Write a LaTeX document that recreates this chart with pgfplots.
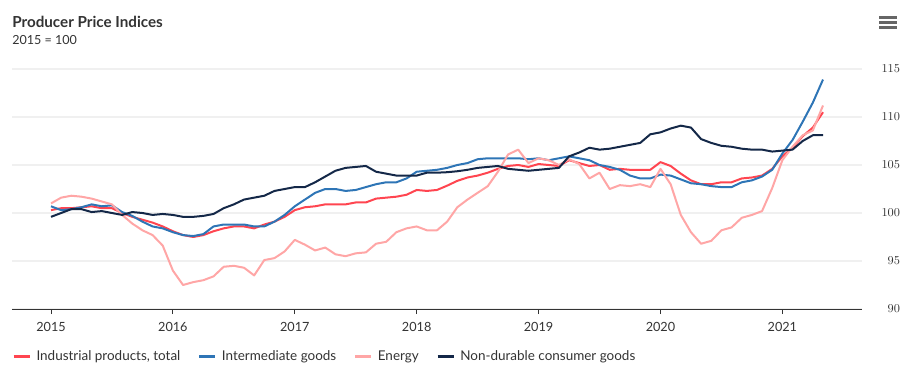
\documentclass[border=0pt]{standalone}
\usepackage{pgfplots}
\usepackage{pgfplotstable}
\pgfplotsset{compat=1.18}
\usepackage{fontspec}
\setmainfont{Lato}
\definecolor{cind}{RGB}{255,69,80}
\definecolor{cint}{RGB}{46,117,182}
\definecolor{cene}{RGB}{255,166,166}
\definecolor{cndc}{RGB}{20,40,72}
\definecolor{txt}{RGB}{51,51,51}
\definecolor{gridc}{RGB}{240,240,240}
\pgfplotstableread{
m ind int ene ndc
0 100.3 100.7 101.0 99.6
1 100.5 100.3 101.6 100.0
2 100.5 100.4 101.8 100.4
3 100.6 100.6 101.7 100.4
4 100.7 100.9 101.5 100.1
5 100.5 100.7 101.2 100.2
6 100.5 100.8 100.9 100.0
7 100.0 100.1 99.8 99.8
8 99.6 99.7 98.9 100.1
9 99.3 99.1 98.2 100.0
10 99.0 98.6 97.7 99.8
11 98.6 98.4 96.6 99.9
12 98.1 98.0 94.0 99.8
13 97.7 97.7 92.5 99.6
14 97.5 97.6 92.8 99.6
15 97.7 97.8 93.0 99.7
16 98.1 98.6 93.4 99.9
17 98.4 98.8 94.4 100.5
18 98.6 98.8 94.5 100.9
19 98.6 98.8 94.3 101.4
20 98.4 98.6 93.5 101.6
21 98.8 98.6 95.1 101.8
22 99.1 99.1 95.3 102.3
23 99.6 99.8 96.0 102.5
24 100.3 100.7 97.2 102.7
25 100.6 101.4 96.7 102.7
26 100.7 102.1 96.1 103.2
27 100.9 102.5 96.4 103.8
28 100.9 102.5 95.7 104.4
29 100.9 102.3 95.5 104.7
30 101.1 102.4 95.8 104.8
31 101.1 102.7 95.9 104.9
32 101.5 103.0 96.8 104.3
33 101.6 103.2 97.0 104.1
34 101.7 103.2 98.0 103.9
35 101.9 103.6 98.4 103.9
36 102.4 104.3 98.6 103.9
37 102.3 104.4 98.2 104.2
38 102.4 104.5 98.2 104.2
39 102.85 104.7 99.1 104.25
40 103.35 105.0 100.6 104.35
41 103.7 105.2 101.4 104.5
42 103.9 105.6 102.1 104.7
43 104.2 105.7 102.8 104.8
44 104.6 105.7 104.3 104.9
45 104.9 105.7 106.1 104.6
46 105.0 105.7 106.6 104.5
47 104.8 105.6 105.2 104.4
48 105.1 105.7 105.7 104.5
49 105.0 105.5 105.5 104.6
50 104.9 105.7 105.0 104.7
51 105.5 105.9 105.6 105.9
52 105.2 105.7 105.1 106.3
53 104.9 105.5 103.6 106.8
54 105.0 105.0 104.2 106.6
55 104.5 104.8 102.5 106.7
56 104.6 104.5 102.9 106.9
57 104.5 103.9 102.8 107.1
58 104.5 103.6 103.0 107.3
59 104.5 103.6 102.7 108.2
60 105.3 104.0 104.6 108.4
61 104.9 103.9 103.0 108.8
62 104.1 103.5 99.8 109.1
63 103.4 103.1 98.0 108.9
64 103.0 103.0 96.8 107.7
65 103.0 102.8 97.1 107.3
66 103.2 102.7 98.2 107.0
67 103.2 102.7 98.5 106.9
68 103.6 103.2 99.5 106.7
69 103.7 103.4 99.8 106.6
70 103.9 103.8 100.2 106.6
71 104.6 104.5 102.6 106.4
72 105.9 106.2 105.5 106.5
73 106.8 107.6 106.9 106.6
74 108.0 109.5 108.1 107.5
75 108.9 111.5 108.6 108.1
76 110.5 113.9 111.2 108.1
}\datatable
\begin{document}
\begin{tikzpicture}
\path[use as bounding box] (0,0) rectangle (689.25pt,282pt);
\node[anchor=base west, inner sep=0pt, text=txt, font=\fontsize{11.4}{13}\selectfont\bfseries] at (9pt,261.75pt) {Producer Price Indices};
\node[anchor=base west, inner sep=0pt, text=txt, font=\fontsize{9.4}{11}\selectfont] at (9pt,249pt) {2015 = 100};
\foreach \yy in {17.3,22.5,27.7} {
  \draw[line width=1.9pt, color=black!60] (659.5pt,{(376-\yy)*0.75pt}) -- (672.5pt,{(376-\yy)*0.75pt});
}
\begin{axis}[
  at={(9pt,50.25pt)}, anchor=south west,
  scale only axis, width=637.5pt, height=180pt,
  xmin=-3.84, xmax=79.84, ymin=90, ymax=115,
  axis x line=bottom, axis y line=right,
  x axis line style={-, draw=txt, line width=0.75pt},
  y axis line style={draw=none},
  xtick={0,12,24,36,48,60,72},
  xticklabels={2015,2016,2017,2018,2019,2020,2021},
  ytick={90,95,100,105,110,115},
  tick align=outside,
  major tick length=3.75pt,
  xtick style={draw=txt, line width=0.75pt},
  ytick style={draw=none},
  ymajorgrids, grid style={draw=gridc, line width=1.4pt},
  tick label style={font=\fontsize{9.5}{10}\selectfont, text=txt},
  xticklabel style={yshift=-3pt},
  yticklabel style={anchor=east, inner sep=0pt, xshift=25pt},
  legend style={at={(axis description cs:0,-0.197)}, anchor=west, draw=none, fill=none, inner sep=0pt, font=\fontsize{10.1}{11}\selectfont, text=txt, legend cell align=left, nodes={inner sep=0pt}, /tikz/every odd column/.append style={column sep=4pt}, /tikz/every even column/.append style={column sep=13pt}},
  legend columns=4,
  legend image code/.code={\draw[line width=2.2pt, #1] (0pt,0pt) -- (12pt,0pt);},
  every axis plot/.append style={line width=1.5pt, line join=round, no markers},
]
\addplot[cind] table[x=m, y=ind] {\datatable};
\addlegendentry{Industrial products, total}
\addplot[cint] table[x=m, y=int] {\datatable};
\addlegendentry{Intermediate goods}
\addplot[cene] table[x=m, y=ene] {\datatable};
\addlegendentry{Energy}
\addplot[cndc] table[x=m, y=ndc] {\datatable};
\addlegendentry{Non-durable consumer goods}
\end{axis}
\end{tikzpicture}
\end{document}
